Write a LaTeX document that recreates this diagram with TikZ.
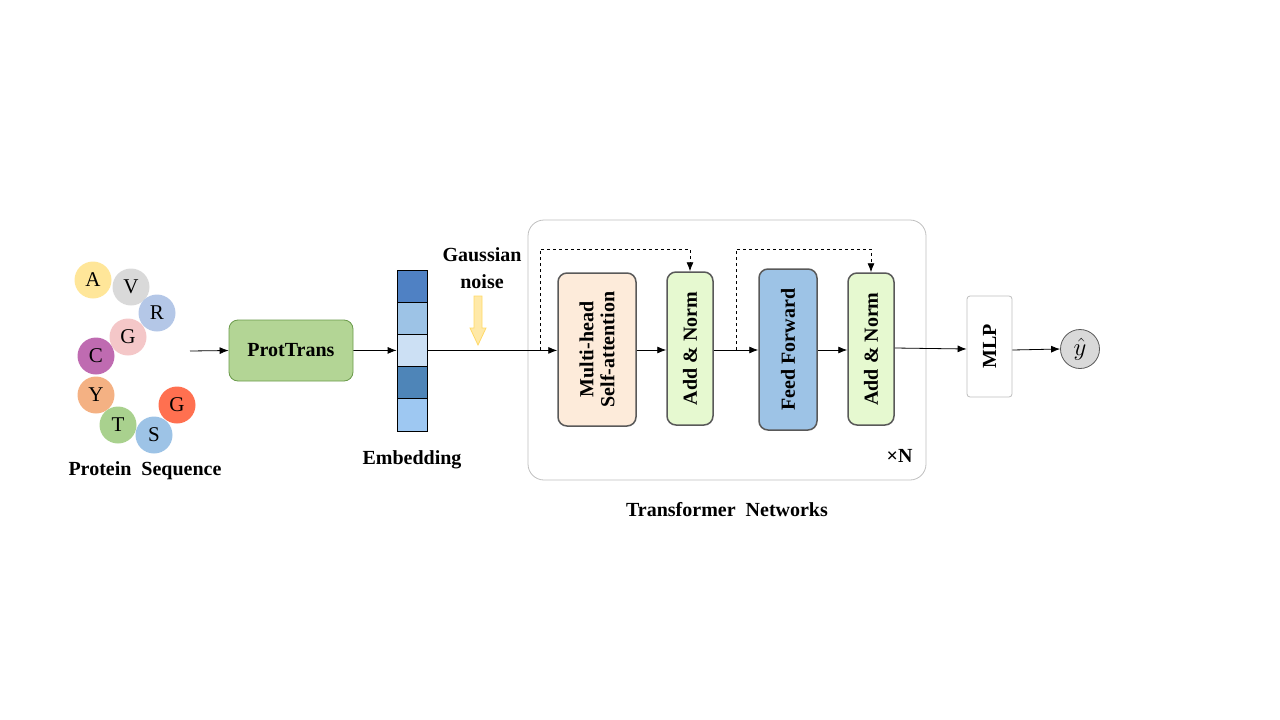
\documentclass[tikz,border=0pt]{standalone}
\usepackage{fontspec}
\setmainfont{Liberation Serif}
\usetikzlibrary{arrows.meta,positioning}
\definecolor{cA}{HTML}{FFE699}
\definecolor{cV}{HTML}{D9D9D9}
\definecolor{cR}{HTML}{B4C7E7}
\definecolor{cG}{HTML}{F4C7C8}
\definecolor{cC}{HTML}{BF6BB1}
\definecolor{cY}{HTML}{F4B183}
\definecolor{cT}{HTML}{A9D18E}
\definecolor{cS}{HTML}{9DC3E6}
\definecolor{cGG}{HTML}{FF7050}
\definecolor{ptfill}{HTML}{B3D595}
\definecolor{ptdraw}{HTML}{6A9A4A}
\definecolor{e1}{HTML}{4F81C4}
\definecolor{e2}{HTML}{9DC3E6}
\definecolor{e3}{HTML}{CCE0F4}
\definecolor{e4}{HTML}{4E85B8}
\definecolor{e5}{HTML}{9EC8F2}
\definecolor{peach}{HTML}{FDEBDA}
\definecolor{lgreen}{HTML}{E6F9D0}
\definecolor{ffblue}{HTML}{9DC3E6}
\definecolor{boxgray}{HTML}{BFBFBF}
\definecolor{darkb}{HTML}{595959}
\definecolor{nfill}{HTML}{FFE9A8}
\definecolor{ndraw}{HTML}{FFD966}
\begin{document}
\begin{tikzpicture}[x=1pt,y=-1pt,
  font=\fontsize{20}{23}\selectfont,
  aa/.style={circle,minimum size=37pt,inner sep=0pt,font=\fontsize{21}{24}\selectfont},
  lbl/.style={font=\fontsize{20}{23}\selectfont\bfseries,align=center},
  blk/.style={draw=darkb,line width=1.5pt,rounded corners=9pt,inner sep=0pt},
  arr/.style={-{Latex[length=9pt,width=7pt]},line width=0.8pt},
  skip/.style={dashed,-{Latex[length=9pt,width=7pt]},line width=0.8pt},
  cell/.style={draw=black,line width=0.8pt,minimum width=30pt,minimum height=32pt,inner sep=0pt,anchor=north}
]
\useasboundingbox (0,0) rectangle (1280,720);
% amino acids
\node[aa,fill=cA]  (a1) at (93,280) {A};
\node[aa,fill=cV]  (a2) at (131,287) {V};
\node[aa,fill=cR]  (a3) at (157,313) {R};
\node[aa,fill=cG]  (a4) at (128,337) {G};
\node[aa,fill=cC]  (a5) at (96,356) {C};
\node[aa,fill=cY]  (a6) at (96,395) {Y};
\node[aa,fill=cGG] (a9) at (177,405) {G};
\node[aa,fill=cT]  (a7) at (118,425) {T};
\node[aa,fill=cS]  (a8) at (154,435) {S};
\node[lbl] (ps) at (145,471) {Protein\ \ Sequence};
\coordinate (pin) at (190,351);
% ProtTrans
\node[draw=ptdraw,fill=ptfill,line width=0.8pt,rounded corners=9pt,minimum width=124pt,minimum height=61pt,lbl] (pt) at (291,350.5) {ProtTrans};
% embedding
\node[cell,fill=e1] (c1) at (412,270) {};
\node[cell,fill=e2] (c2) at (412,302) {};
\node[cell,fill=e3] (c3) at (412,334) {};
\node[cell,fill=e4] (c4) at (412,366) {};
\node[cell,fill=e5,minimum height=33pt] (c5) at (412,398) {};
\node[lbl] (emb) at (412,460) {Embedding};
% gaussian noise
\node[lbl,font=\fontsize{20}{27}\selectfont\bfseries] (gn) at (482,268) {Gaussian\\noise};
\draw[draw=ndraw,fill=nfill,line width=0.8pt] (474,296) -- (482,296) -- (482,328) -- (486,328) -- (478,345) -- (470,328) -- (474,328) -- cycle;
% transformer container
\node[draw=boxgray,line width=0.8pt,rounded corners=16pt,minimum width=398pt,minimum height=260pt,inner sep=0pt] (tf) at (727,350) {};
\node[lbl] (tn) at (727,510) {Transformer\ \ Networks};
\node[lbl,anchor=east] (xn) at (916,456) {×N};
% blocks
\node[blk,fill=peach,minimum width=78pt,minimum height=153pt] (mh) at (597,349.5) {};
\node[lbl,rotate=90,font=\fontsize{20}{21}\selectfont\bfseries] at (mh.center) {Multi-head\\Self-attention};
\node[blk,fill=lgreen,minimum width=46pt,minimum height=153pt] (an1) at (690,348.5) {};
\node[lbl,rotate=90] at (an1.center) {Add \& Norm};
\node[blk,fill=ffblue,minimum width=58pt,minimum height=161pt] (ff) at (788,349.5) {};
\node[lbl,rotate=90] at (ff.center) {Feed Forward};
\node[blk,fill=lgreen,minimum width=46pt,minimum height=152pt] (an2) at (871,349) {};
\node[lbl,rotate=90] at (an2.center) {Add \& Norm};
% MLP
\node[draw=boxgray,fill=white,line width=0.8pt,rounded corners=3pt,minimum width=45pt,minimum height=101pt,inner sep=0pt] (mlp) at (989.5,346.5) {};
\node[lbl,rotate=90] at (mlp.center) {MLP};
\node[circle,draw=darkb,fill=cV,line width=0.8pt,minimum size=39pt,inner sep=0pt,font=\fontsize{25}{28}\selectfont] (yh) at (1080,349) {$\hat{y}$};
% connectors
\draw[arr] (pin) -- (pt.west);
\draw[arr] (pt.east) -- (c3.west);
\draw[arr] (c3.east) -- (mh.west |- c3.east);
\coordinate (s1) at (540,350);
\coordinate (s2) at (736,350);
\draw[skip] (s1) -- (540,249) -| (an1.north);
\draw[arr] (mh.east |- 0,350) -- (an1.west |- 0,350);
\draw[arr] (an1.east |- 0,350) -- (ff.west |- 0,350);
\draw[skip] (s2) -- (736,249) -| (an2.north);
\draw[arr] (ff.east |- 0,350) -- (an2.west |- 0,350);
\draw[arr] (an2.east |- 0,348) -- (mlp.west |- 0,349);
\draw[arr] (mlp.east |- 0,350) -- (yh.west);
\end{tikzpicture}
\end{document}
